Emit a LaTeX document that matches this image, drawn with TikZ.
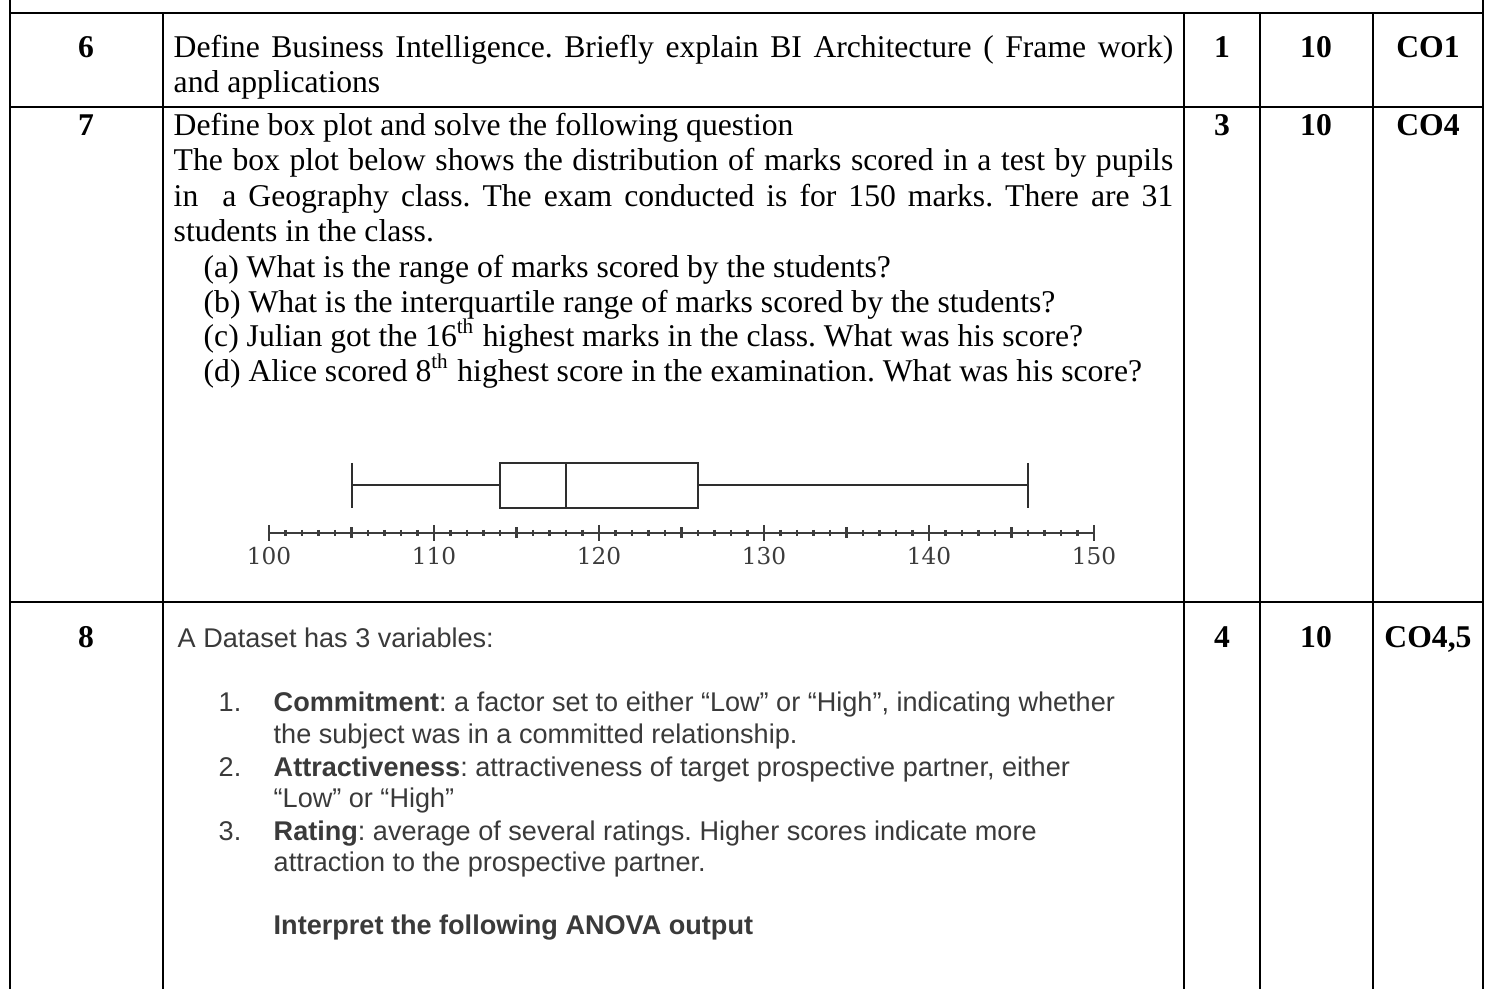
\documentclass[tikz,border=0pt]{standalone}
\usepackage{fontspec}
\setmainfont{Liberation Serif}
\setsansfont{Liberation Sans}
\newfontfamily\axisfont{DejaVu Serif}
\usepackage{tikz}
\definecolor{QPRule}{HTML}{000000}
\definecolor{QPGrey}{HTML}{3A3A3A}
\definecolor{QPPlot}{HTML}{2E2E2E}
\definecolor{QPAxis}{HTML}{3C3C3C}
\frenchspacing

\tikzset{
  rule/.style={QPRule,line width=0.8pt},
  serif/.style={anchor=base west,inner sep=0pt,font=\fontsize{9.0}{10}\selectfont},
  qnum/.style={anchor=base,inner sep=0pt,font=\fontsize{9.0}{10}\selectfont\bfseries},
  sans/.style={anchor=base west,inner sep=0pt,QPGrey,font=\sffamily\fontsize{7.7}{9}\selectfont},
  axislabel/.style={anchor=center,inner sep=0pt,QPAxis,font=\axisfont\fontsize{6.6}{7}\selectfont}
}

\begin{document}
\begin{tikzpicture}[x=0.01cm,y=-0.01cm]
\path[use as bounding box] (0,0) rectangle (1490,989);
% table rules
\draw[rule] (10,0) -- (10,989);
\draw[rule] (1483,0) -- (1483,989);
\draw[rule] (10,13) -- (1483,13);
\draw[rule] (10,107) -- (1483,107);
\draw[rule] (10,602) -- (1483,602);
\foreach \cx in {163,1184,1260,1373}
  \draw[rule] (\cx,13) -- (\cx,989);
% row 6
\node[qnum] (n6) at (86,58) {6};
\node[serif] (q6a) at (173,58) {\makebox[9.99cm][s]{Define Business Intelligence. Briefly explain BI Architecture ( Frame work)}};
\node[serif] (q6b) at (173,93) {and applications};
\node[qnum] (m6) at (1222,58) {1};
\node[qnum] (k6) at (1316,58) {10};
\node[qnum] (c6) at (1428,58) {CO1};
% row 7
\node[qnum] (n7) at (86,136) {7};
\node[serif] (q7a) at (173,136) {Define box plot and solve the following question};
\node[serif] (q7b) at (173,171) {\makebox[9.99cm][s]{The box plot below shows the distribution of marks scored in a test by pupils}};
\node[serif] (q7c) at (173,207) {\makebox[9.99cm][s]{in\ \ a Geography class. The exam conducted is for 150 marks. There are 31}};
\node[serif] (q7d) at (173,242) {students in the class.};
\node[serif] (q7e) at (203,278) {(a) What is the range of marks scored by the students?};
\node[serif] (q7f) at (203,313) {(b) What is the interquartile range of marks scored by the students?};
\node[serif] (q7g) at (203,347) {(c) Julian got the 16\textsuperscript{th} highest marks in the class. What was his score?};
\node[serif] (q7h) at (203,382) {(d) Alice scored 8\textsuperscript{th} highest score in the examination. What was his score?};
\node[qnum] (m7) at (1222,136) {3};
\node[qnum] (k7) at (1316,136) {10};
\node[qnum] (c7) at (1428,136) {CO4};
% box plot
\draw[QPAxis,line width=0.65pt] (269,533) -- (1094,533);
\foreach \v in {0,...,50}{
  \pgfmathsetmacro{\tx}{269+16.5*\v}
  \draw[QPAxis,line width=0.6pt] (\tx,530) -- (\tx,536);
}
\foreach \v in {5,15,...,45}{
  \pgfmathsetmacro{\tx}{269+16.5*\v}
  \draw[QPAxis,line width=0.65pt] (\tx,527.5) -- (\tx,538.5);
}
\foreach \v/\lab in {0/100,10/110,20/120,30/130,40/140,50/150}{
  \pgfmathsetmacro{\tx}{269+16.5*\v}
  \draw[QPAxis,line width=0.65pt] (\tx,525) -- (\tx,541);
  \node[axislabel] (ax\lab) at (\tx,556) {\lab};
}
\draw[QPPlot,line width=0.5pt] (352,485) -- (500,485);
\draw[QPPlot,line width=0.5pt] (698,485) -- (1028,485);
\draw[QPPlot,line width=0.65pt] (500,463) rectangle (698,508);
\draw[QPPlot,line width=0.65pt] (566,463) -- (566,508);
\draw[QPPlot,line width=0.8pt] (352,463) -- (352,508);
\draw[QPPlot,line width=0.8pt] (1028,463) -- (1028,508);
% row 8
\node[qnum] (n8) at (86,648) {8};
\node[sans] (q8a) at (177,648) {A Dataset has 3 variables:};
\node[sans] (l1) at (218,712) {1.};
\node[sans] (q8b) at (273,712) {\textbf{Commitment}: a factor set to either “Low” or “High”, indicating whether};
\node[sans] (q8c) at (273,744) {the subject was in a committed relationship.};
\node[sans] (l2) at (218,777) {2.};
\node[sans] (q8d) at (273,777) {\textbf{Attractiveness}: attractiveness of target prospective partner, either};
\node[sans] (q8e) at (273,808) {“Low” or “High”};
\node[sans] (l3) at (218,841) {3.};
\node[sans] (q8f) at (273,841) {\textbf{Rating}: average of several ratings. Higher scores indicate more};
\node[sans] (q8g) at (273,872) {attraction to the prospective partner.};
\node[sans] (q8h) at (273,935) {\textbf{Interpret the following ANOVA output}};
\node[qnum] (m8) at (1222,648) {4};
\node[qnum] (k8) at (1316,648) {10};
\node[qnum] (c8) at (1428,648) {CO4,5};
\end{tikzpicture}
\end{document}
